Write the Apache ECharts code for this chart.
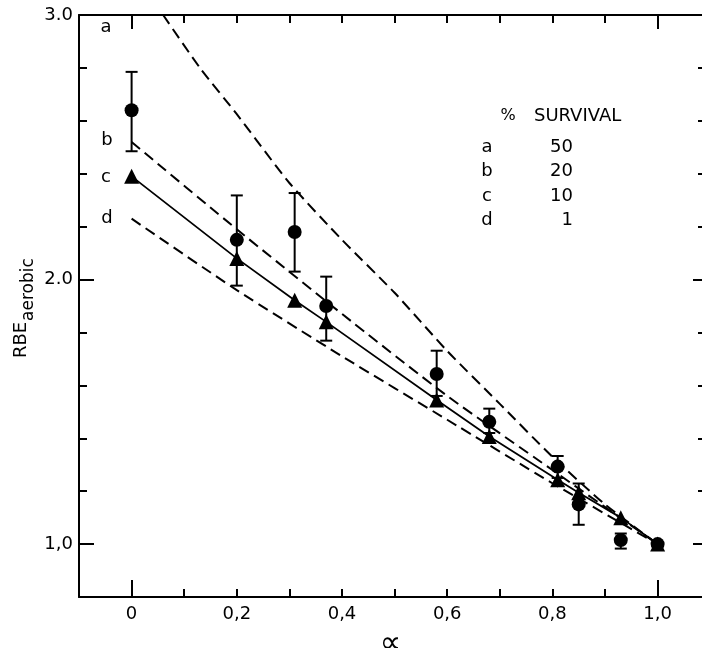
<!DOCTYPE html>
<html><head><meta charset="utf-8">
<script src="https://cdn.jsdelivr.net/npm/echarts@6/dist/echarts.min.js"></script>
<style>html,body{margin:0;padding:0;background:#fff}#chart{width:702px;height:648px}</style>
</head><body><div id="chart"></div>
<script>
// ---- data ----
const alphaPoints = [0, 0.2, 0.31, 0.37, 0.58, 0.68, 0.81, 0.85, 0.93, 1.0];
const rbeCircles  = [2.64, 2.15, 2.18, 1.90, 1.643, 1.462, 1.293, 1.15, 1.015, 1.0];
const errLow      = [2.485, 1.977, 2.03, 1.769, 1.56, 1.42, 1.25, 1.073, 0.983, null];
const errHigh     = [2.785, 2.318, 2.327, 2.011, 1.731, 1.512, 1.333, 1.229, 1.04, null];
const rbeTriangles = [2.39, 2.08, 1.922, 1.84, 1.545, 1.407, 1.243, 1.194, 1.10, 1.0];

const curveAX = [0.06, 0.13, 0.2, 0.3, 0.4, 0.5, 0.6, 0.7, 0.8, 0.9, 1.0];
const curveAY = [3.0, 2.80, 2.625, 2.365, 2.15, 1.95, 1.73, 1.53, 1.33, 1.15, 1.0];
const curveBX = [0, 0.2, 0.4, 0.6, 0.8, 1.0];
const curveBY = [2.52, 2.19, 1.87, 1.56, 1.28, 1.0];
const curveDX = [0, 0.2, 0.4, 0.6, 0.8, 1.0];
const curveDY = [2.23, 1.96, 1.71, 1.47, 1.23, 1.0];

const xTickValues = [0, 0.2, 0.4, 0.6, 0.8, 1.0];
const xTickLabels = ['0', '0,2', '0,4', '0,6', '0,8', '1,0'];
const xMinorTicks = [0.1, 0.2, 0.3, 0.4, 0.5, 0.6, 0.7, 0.8, 0.9];
const xMajorTicks = [0, 1.0];
const yTickValues = [1, 2, 3];
const yTickLabels = ['1,0', '2.0', '3.0'];
const yMinorTicks = [1.2, 1.4, 1.6, 1.8, 2.2, 2.4, 2.6, 2.8];

const legendTitle = ['%', 'SURVIVAL'];
const legendLetters = ['a', 'b', 'c', 'd'];
const legendSurvival = ['50', '20', '10', '1'];

// ---- helpers ----
const FONT = 'DejaVu Sans';
const pairs = (xs, ys) => xs.map((x, i) => [x, ys[i]]);
const labelFor = (vals, labels) => v => {
  for (let i = 0; i < vals.length; i++) if (Math.abs(vals[i] - v) < 1e-6) return labels[i];
  return '';
};
const X_MIN = -0.1, X_MAX = 1.0844, Y_MIN = 0.8, Y_MAX = 3.0;

function xAx(pos, ticks, len, showLine, labels) {
  return {
    type: 'value', position: pos, min: X_MIN, max: X_MAX,
    axisLine: { show: showLine, onZero: false, lineStyle: { color: '#000', width: 2 } },
    axisTick: { show: true, inside: true, length: len, customValues: ticks, lineStyle: { color: '#000', width: 2 } },
    axisLabel: labels ? { show: true, customValues: xTickValues, formatter: labelFor(xTickValues, xTickLabels),
      color: '#000', fontSize: 18, fontFamily: FONT, margin: 8 } : { show: false },
    splitLine: { show: false }
  };
}
function yAx(pos, ticks, len, showLine, labels) {
  return {
    type: 'value', position: pos, min: Y_MIN, max: Y_MAX,
    axisLine: { show: showLine, onZero: false, lineStyle: { color: '#000', width: 2 } },
    axisTick: { show: true, inside: true, length: len, customValues: ticks, lineStyle: { color: '#000', width: 2 } },
    axisLabel: labels ? { show: true, customValues: yTickValues, formatter: labelFor(yTickValues, yTickLabels),
      color: '#000', fontSize: 18, fontFamily: FONT, margin: 6 } : { show: false },
    splitLine: { show: false }
  };
}

const xAxes = [
  xAx('bottom', xMinorTicks, 8, true, true),
  xAx('bottom', xMajorTicks, 17, false, false),
  xAx('top', xMinorTicks, 8, true, false),
  xAx('top', xMajorTicks, 14, false, false)
];
xAxes[0].name = '\u221D';
xAxes[0].nameLocation = 'middle';
xAxes[0].nameGap = 32;
xAxes[0].nameTextStyle = { fontSize: 30, fontFamily: FONT, color: '#000' };

const yAxes = [
  yAx('left', yMinorTicks, 8, true, true),
  yAx('left', yTickValues, 15, false, false),
  yAx('right', yMinorTicks, 4, false, false),
  yAx('right', yTickValues, 9, false, false)
];

const errData = alphaPoints.map((x, i) => errLow[i] == null ? null : [x, errLow[i], errHigh[i]]).filter(Boolean);

const dashed = { color: '#000', width: 2, type: [11, 6] };

const series = [
  { type: 'line', name: 'a', data: pairs(curveAX, curveAY), smooth: 0.2, showSymbol: false, lineStyle: dashed, silent: true },
  { type: 'line', name: 'b', data: pairs(curveBX, curveBY), smooth: 0.2, showSymbol: false, lineStyle: dashed, silent: true },
  { type: 'line', name: 'd', data: pairs(curveDX, curveDY), smooth: 0.2, showSymbol: false, lineStyle: dashed, silent: true },
  { type: 'line', name: 'c', data: pairs(alphaPoints, rbeTriangles), symbol: 'triangle', symbolSize: 15,
    showSymbol: true, itemStyle: { color: '#000', opacity: 1 }, lineStyle: { color: '#000', width: 1.8 }, silent: true },
  { type: 'custom', name: 'err', data: errData, encode: { x: 0, y: [1, 2] }, silent: true, z: 3,
    renderItem: function (params, api) {
      const x = api.value(0), lo = api.value(1), hi = api.value(2);
      const p1 = api.coord([x, hi]), p2 = api.coord([x, lo]);
      const w = 6;
      const st = { stroke: '#000', lineWidth: 2 };
      return { type: 'group', children: [
        { type: 'line', shape: { x1: p1[0], y1: p1[1], x2: p2[0], y2: p2[1] }, style: st },
        { type: 'line', shape: { x1: p1[0] - w, y1: p1[1], x2: p1[0] + w, y2: p1[1] }, style: st },
        { type: 'line', shape: { x1: p2[0] - w, y1: p2[1], x2: p2[0] + w, y2: p2[1] }, style: st }
      ]};
    }
  },
  { type: 'scatter', name: 'circles', data: pairs(alphaPoints, rbeCircles), symbol: 'circle', symbolSize: 14,
    itemStyle: { color: '#000', opacity: 1 }, silent: true, z: 4 }
];

const txt = (x, y, text, align, size) => ({
  type: 'text', x: x, y: y, silent: true,
  style: { text: text, fill: '#000', font: (size || 18) + 'px "' + FONT + '"',
    textAlign: align || 'left', textVerticalAlign: 'middle', align: align || 'left', verticalAlign: 'middle' }
});

const graphics = [
  // curve labels
  txt(106, 27, legendLetters[0], 'center'),
  txt(107, 140, legendLetters[1], 'center'),
  txt(106, 177, legendLetters[2], 'center'),
  txt(107, 218, legendLetters[3], 'center'),
  // survival key
  txt(508, 116, legendTitle[0], 'center', 16),
  txt(534, 116, legendTitle[1], 'left'),
  // y-axis title
  { type: 'group', x: 30, y: 358, rotation: Math.PI / 2, silent: true, children: [
    { type: 'text', x: 0, y: 0, style: { text: 'RBE', fill: '#000', font: '18px "' + FONT + '"',
      textAlign: 'left', textVerticalAlign: 'bottom', align: 'left', verticalAlign: 'bottom' } },
    { type: 'text', x: 37, y: 7, style: { text: 'aerobic', fill: '#000', font: '17px "' + FONT + '"',
      textAlign: 'left', textVerticalAlign: 'bottom', align: 'left', verticalAlign: 'bottom' } }
  ]}
];
const rowY = [147, 171, 196, 220];
legendLetters.forEach((l, i) => {
  graphics.push(txt(487, rowY[i], l, 'center'));
  graphics.push(txt(573, rowY[i], legendSurvival[i], 'right'));
});

const chart = echarts.init(document.getElementById('chart'), null, { renderer: 'canvas' });
chart.setOption({
  animation: false,
  backgroundColor: '#fff',
  grid: { left: 79, top: 15, width: 623, height: 582, outerBoundsMode: 'none', containLabel: false },
  xAxis: xAxes,
  yAxis: yAxes,
  series: series,
  graphic: graphics
});
</script></body></html>
